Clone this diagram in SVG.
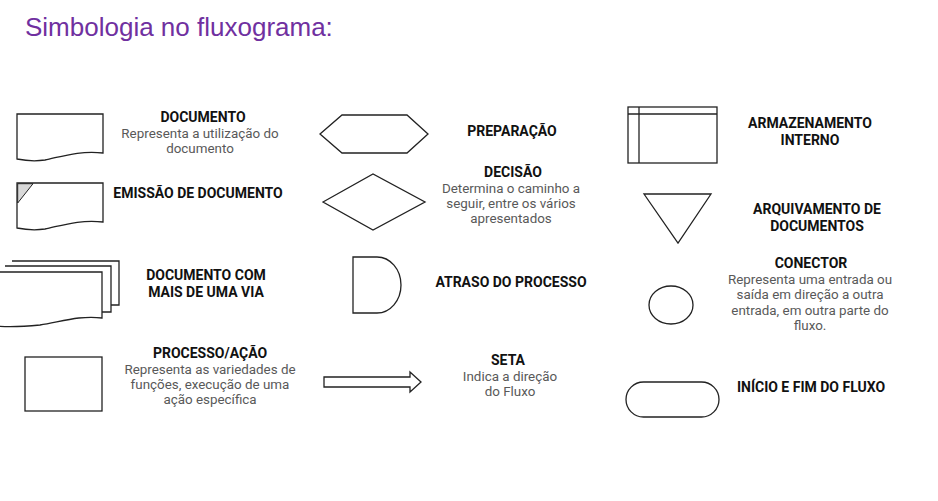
<svg xmlns="http://www.w3.org/2000/svg" width="938" height="501" viewBox="0 0 938 501">
<style>
.s{fill:#fff;stroke:#222;stroke-width:1.3;stroke-linejoin:miter}
.t{font-family:Roboto,"Liberation Sans",sans-serif;font-size:14px;font-weight:bold;fill:#111;text-anchor:middle}
.d{font-family:Roboto,"Liberation Sans",sans-serif;font-size:13.4px;fill:#595959;text-anchor:middle}
.title{font-family:"Liberation Sans",Arial,sans-serif;font-size:26px;fill:#7030A0}
</style>
<rect width="938" height="501" fill="#fff"/>
<text class="title" x="25" y="36">Simbologia no fluxograma:</text>

<g id="documento">
<path class="s" d="M17,114 H103 V153 C80,150 60,157 45,160 C32,162 22,160 17,159 Z"/>
<text class="t" x="203" y="122">DOCUMENTO</text>
<text class="d" x="200" y="138">Representa a utilização do</text>
<text class="d" x="200" y="153">documento</text>
</g>

<g id="emissao">
<path class="s" d="M17,183 H103 V222 C80,219 60,226 45,229 C32,231 22,229 17,228 Z"/>
<path d="M17.7,183.7 H33 L17.7,203 Z" fill="#d9d9d9" stroke="#222" stroke-width="1"/>
<text class="t" x="198" y="198">EMISSÃO DE DOCUMENTO</text>
</g>

<g id="multivia">
<path class="s" d="M12,261 H119 V305 H111"/>
<path class="s" d="M5,266 H111 V312 H102"/>
<path class="s" d="M-5,272 H102 V318 C80,315 60,322 40,325 C20,327 5,327 -5,326 Z"/>
<text class="t" x="206" y="280">DOCUMENTO COM</text>
<text class="t" x="206" y="297">MAIS DE UMA VIA</text>
</g>

<g id="processo">
<rect class="s" x="25" y="357" width="77" height="54"/>
<text class="t" x="210" y="358">PROCESSO/AÇÃO</text>
<text class="d" x="210" y="374">Representa as variedades de</text>
<text class="d" x="210" y="389">funções, execução de uma</text>
<text class="d" x="210" y="404">ação específica</text>
</g>

<g id="preparacao">
<polygon class="s" points="320,134 342,115 407,115 428,134 407,153 342,153"/>
<text class="t" x="512" y="136">PREPARAÇÃO</text>
</g>

<g id="decisao">
<polygon class="s" points="323,202 373,174 425,202 373,230"/>
<text class="t" x="513" y="177">DECISÃO</text>
<text class="d" x="511" y="193">Determina o caminho a</text>
<text class="d" x="511" y="208">seguir, entre os vários</text>
<text class="d" x="511" y="223">apresentados</text>
</g>

<g id="atraso">
<path class="s" d="M353,257 H377 A24,28 0 0 1 377,313 H353 Z"/>
<text class="t" x="511" y="287">ATRASO DO PROCESSO</text>
</g>

<g id="seta">
<polygon class="s" points="324,377 410,377 410,372 421,382 410,392 410,387 324,387"/>
<text class="t" x="508" y="365">SETA</text>
<text class="d" x="510" y="381">Indica a direção</text>
<text class="d" x="510" y="396">do Fluxo</text>
</g>

<g id="armazenamento">
<rect class="s" x="628" y="107" width="89" height="56"/>
<line class="s" x1="628" y1="114" x2="717" y2="114"/>
<line class="s" x1="639" y1="107" x2="639" y2="163"/>
<text class="t" x="810" y="128">ARMAZENAMENTO</text>
<text class="t" x="810" y="145">INTERNO</text>
</g>

<g id="arquivamento">
<polygon class="s" points="644,194 711,194 678,243"/>
<text class="t" x="817" y="214">ARQUIVAMENTO DE</text>
<text class="t" x="817" y="231">DOCUMENTOS</text>
</g>

<g id="conector">
<ellipse class="s" cx="671" cy="305" rx="22" ry="19"/>
<text class="t" x="811" y="268">CONECTOR</text>
<text class="d" x="810" y="284">Representa uma entrada ou</text>
<text class="d" x="810" y="299">saída em direção a outra</text>
<text class="d" x="810" y="315">entrada, em outra parte do</text>
<text class="d" x="810" y="330">fluxo.</text>
</g>

<g id="terminal">
<rect class="s" x="626" y="382" width="93" height="35" rx="17.5"/>
<text class="t" x="811" y="392">INÍCIO E FIM DO FLUXO</text>
</g>

<g id="connectors"/>
</svg>
